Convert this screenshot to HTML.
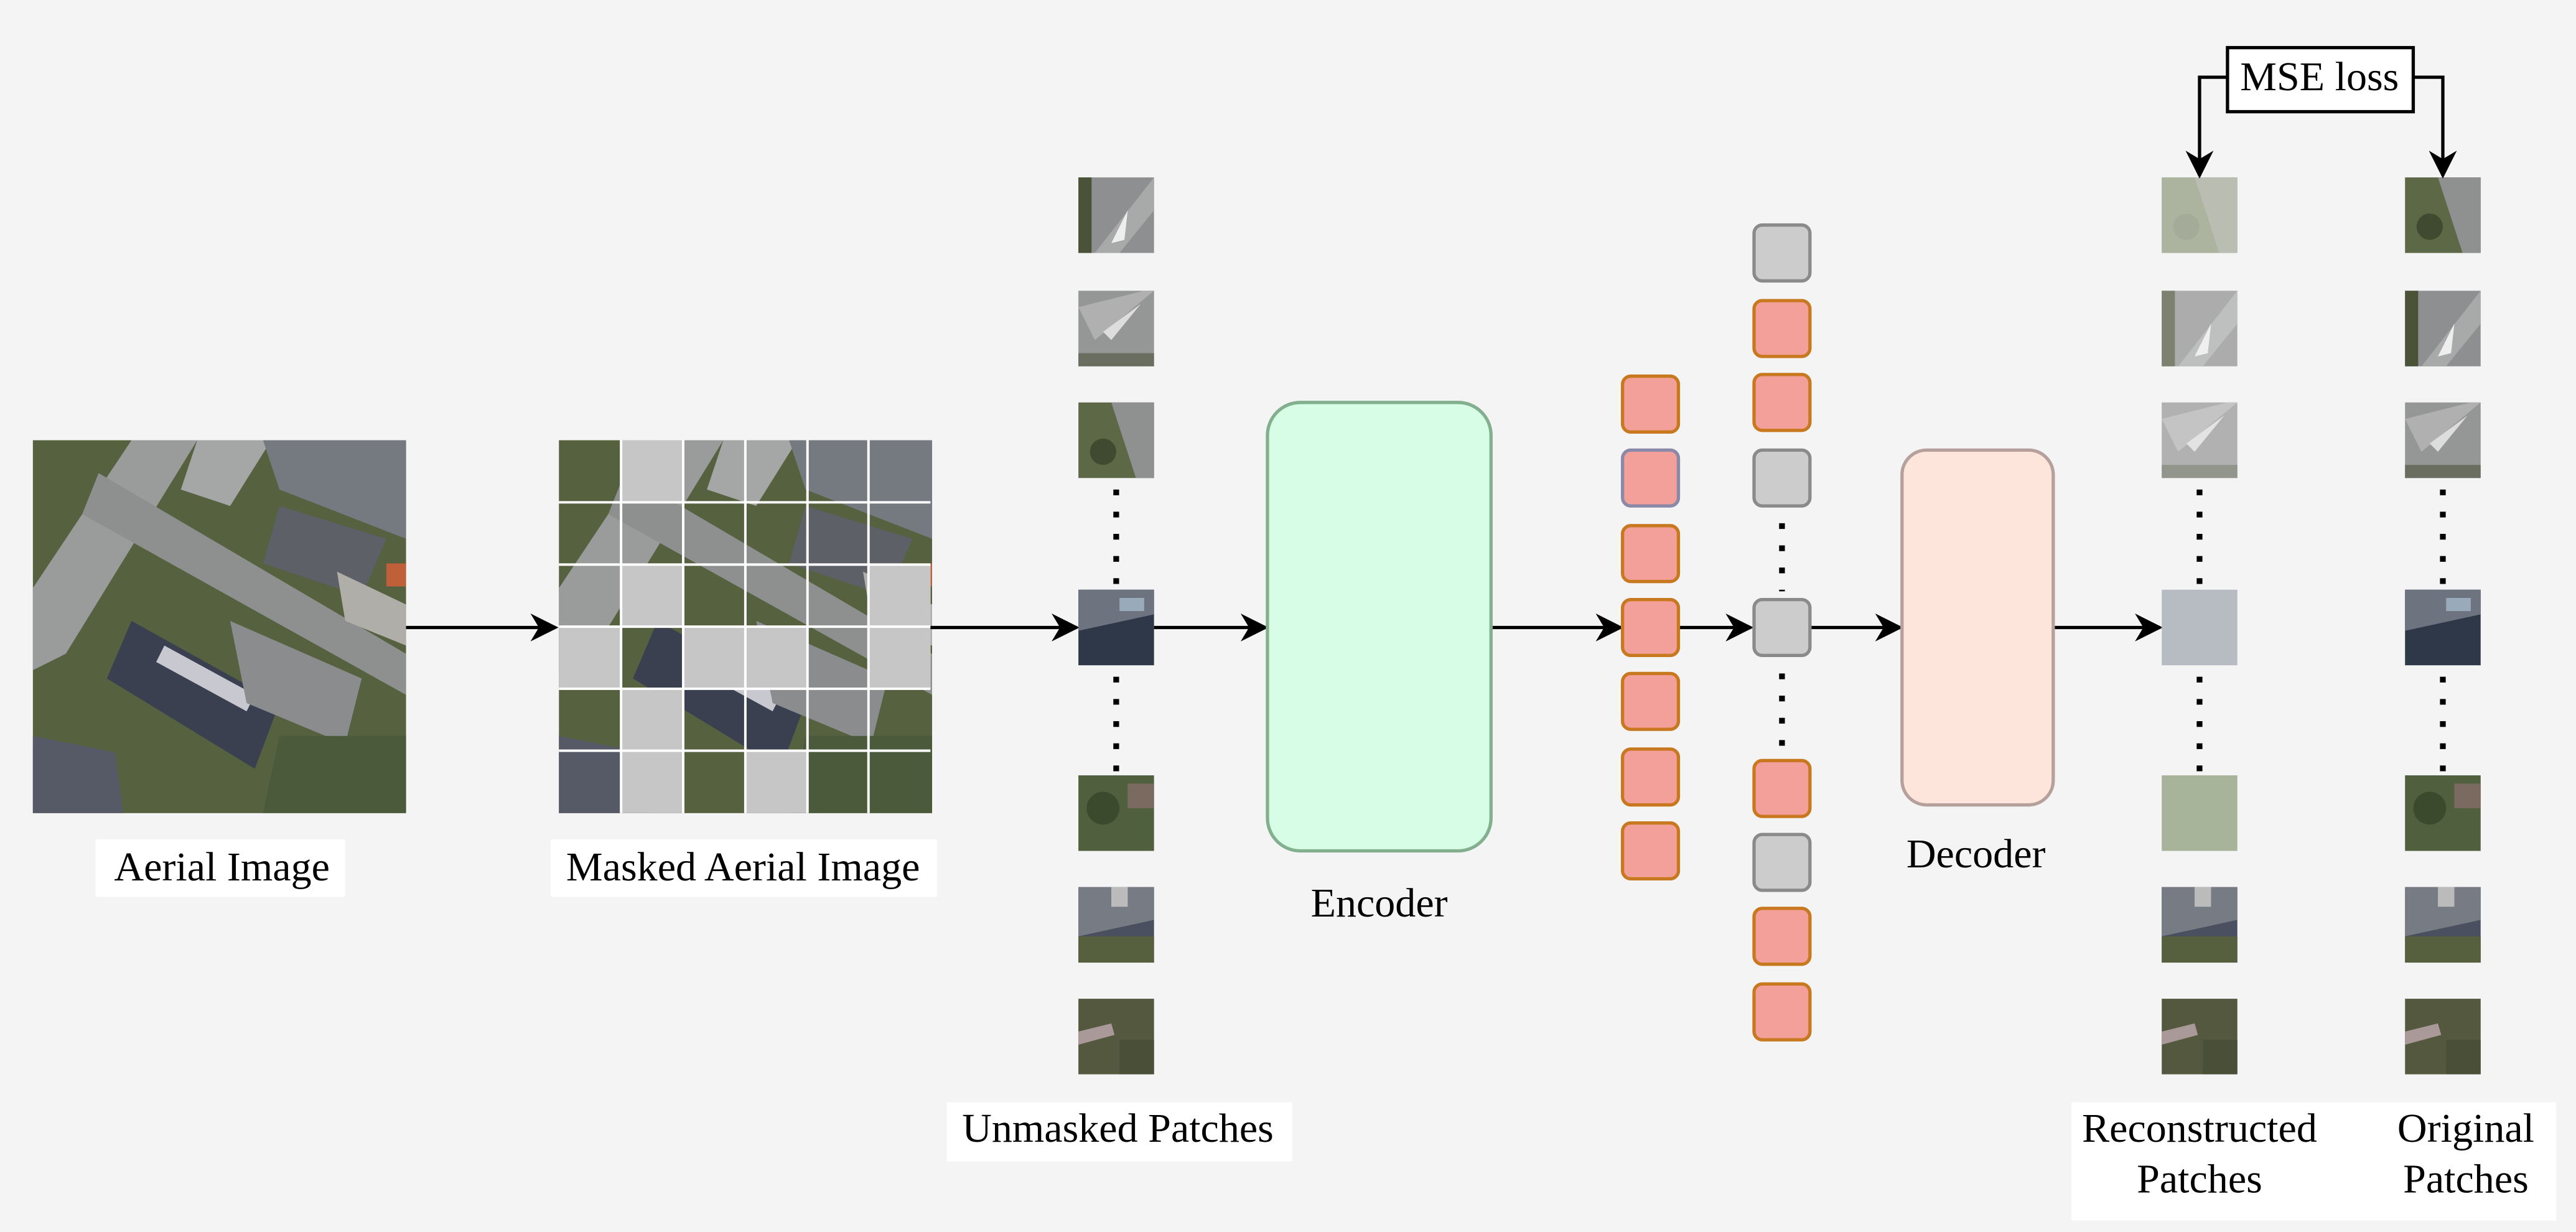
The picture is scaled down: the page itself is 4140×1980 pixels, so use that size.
<!DOCTYPE html>
<html><head><meta charset="utf-8"><style>
html,body{margin:0;padding:0;background:#f4f4f4;}
svg{display:block;}
text{font-family:"Liberation Serif",serif;font-size:25px;fill:#000;}
</style></head><body>
<svg width="4140" height="1980" viewBox="0 0 1567 750" preserveAspectRatio="none" xmlns="http://www.w3.org/2000/svg">
<defs>
<marker id="ah" viewBox="0 0 10 10" refX="9" refY="5" markerWidth="17" markerHeight="17" markerUnits="userSpaceOnUse" orient="auto"><path d="M0,0 L10,5 L0,10 L3,5 z" fill="#000"/></marker>
<g id="aer">
<rect x="0" y="0" width="227" height="227" fill="#55613f"/>
<polygon points="0,90 60,0 100,0 20,130 0,140" fill="#9a9b9b"/>
<polygon points="40,20 227,130 227,155 30,45" fill="#8e9090"/>
<polygon points="100,0 145,0 120,40 90,30" fill="#a5a6a6"/>
<polygon points="140,0 227,0 227,60 150,30" fill="#747a80"/>
<polygon points="150,40 215,60 200,95 140,75" fill="#5d6066"/>
<polygon points="60,110 150,160 135,200 45,145" fill="#3a4050"/>
<polygon points="80,125 135,155 130,165 75,135" fill="#c8c8d0"/>
<polygon points="120,110 200,145 190,185 130,160" fill="#8a8c8e"/>
<polygon points="0,180 50,190 55,227 0,227" fill="#555a66"/>
<polygon points="150,180 227,180 227,227 140,227" fill="#4b5a3a"/>
<polygon points="185,80 227,100 227,125 190,110" fill="#b0aea8"/>
<rect x="215" y="75" width="12" height="14" fill="#c0603a"/>
</g>
<g id="p1"><rect width="46" height="46" fill="#8e8f90"/><polygon points="10,46 46,0 46,20 25,46" fill="#a8a9a9"/><polygon points="20,40 30,20 28,38" fill="#eee"/><rect width="8" height="46" fill="#4a5238"/></g>
<g id="p2"><rect width="46" height="46" fill="#959696"/><polygon points="0,10 40,0 46,0 10,30" fill="#b0b0b0"/><polygon points="15,25 38,8 20,30" fill="#ddd"/><rect y="38" width="46" height="8" fill="#6a6e60"/></g>
<g id="p3"><rect width="46" height="46" fill="#5c6846"/><polygon points="20,0 46,0 46,46 35,46" fill="#8f9090"/><circle cx="15" cy="30" r="8" fill="#3f4a30"/></g>
<g id="p4"><rect width="46" height="46" fill="#2f3848"/><polygon points="0,0 46,0 46,15 0,25" fill="#6d7480"/><rect x="25" y="5" width="15" height="8" fill="#9ab"/></g>
<g id="p5"><rect width="46" height="46" fill="#50603e"/><circle cx="15" cy="20" r="10" fill="#3b4a2c"/><rect x="30" y="5" width="16" height="15" fill="#7a6a60"/></g>
<g id="p6"><rect width="46" height="46" fill="#4a5060"/><polygon points="0,0 46,0 46,20 0,30" fill="#777c84"/><rect x="20" y="0" width="10" height="12" fill="#bbb"/><rect y="30" width="46" height="16" fill="#56603e"/></g>
<g id="p7"><rect width="46" height="46" fill="#54583f"/><polygon points="0,20 20,15 22,22 0,28" fill="#a99"/><rect x="25" y="25" width="21" height="21" fill="#4a5038"/></g>
</defs>
<rect width="1567" height="750" fill="#f4f4f4"/>

<use href="#aer" x="20" y="268"/>
<rect x="58" y="511" width="152" height="35" fill="#fff"/>
<text x="135" y="536" text-anchor="middle">Aerial Image</text>

<use href="#aer" x="340" y="268"/>
<g fill="#c6c6c6">
<rect x="377.8" y="268" width="37.8" height="37.8"/>
<rect x="377.8" y="343.7" width="37.8" height="37.8"/>
<rect x="528.3" y="343.7" width="37.8" height="37.8"/>
<rect x="340" y="381.5" width="37.8" height="37.8"/>
<rect x="415.6" y="381.5" width="75.6" height="37.8"/>
<rect x="528.3" y="381.5" width="37.8" height="37.8"/>
<rect x="377.8" y="419.3" width="37.8" height="37.8"/>
<rect x="377.8" y="457" width="37.8" height="38"/>
<rect x="453.4" y="457" width="37.8" height="38"/>
</g>
<g stroke="#fff" stroke-width="1.5">
<line x1="377.8" y1="268" x2="377.8" y2="495"/><line x1="415.6" y1="268" x2="415.6" y2="495"/>
<line x1="453.4" y1="268" x2="453.4" y2="495"/><line x1="491.2" y1="268" x2="491.2" y2="495"/>
<line x1="528.3" y1="268" x2="528.3" y2="495"/>
<line x1="340" y1="305.8" x2="566" y2="305.8"/><line x1="340" y1="343.7" x2="566" y2="343.7"/>
<line x1="340" y1="381.5" x2="566" y2="381.5"/><line x1="340" y1="419.3" x2="566" y2="419.3"/>
<line x1="340" y1="457" x2="566" y2="457"/>
</g>
<rect x="335" y="511" width="235" height="35" fill="#fff"/>
<text x="452" y="536" text-anchor="middle">Masked Aerial Image</text>

<g stroke="#000" stroke-width="2" fill="none" marker-end="url(#ah)">
<line x1="247" y1="382" x2="338" y2="382"/>
<line x1="566" y1="382" x2="655" y2="382"/>
<line x1="702" y1="382" x2="770" y2="382"/>
<line x1="907" y1="382" x2="986" y2="382"/>
<line x1="1021" y1="382" x2="1065" y2="382"/>
<line x1="1101" y1="382" x2="1156" y2="382"/>
<line x1="1249" y1="382" x2="1314" y2="382"/>
</g>

<use href="#p1" x="656" y="108"/><use href="#p2" x="656" y="177"/><use href="#p3" x="656" y="245"/>
<use href="#p4" x="656" y="359"/><use href="#p5" x="656" y="472"/><use href="#p6" x="656" y="540"/><use href="#p7" x="656" y="608"/>
<g stroke="#000" stroke-width="3.5" stroke-dasharray="3.5,10">
<line x1="679" y1="298" x2="679" y2="356"/><line x1="679" y1="412" x2="679" y2="472"/>
<line x1="1338" y1="298" x2="1338" y2="356"/><line x1="1338" y1="412" x2="1338" y2="472"/>
<line x1="1486" y1="298" x2="1486" y2="356"/><line x1="1486" y1="412" x2="1486" y2="472"/>
<line x1="1084" y1="305" x2="1084" y2="360"/><line x1="1084" y1="410" x2="1084" y2="458"/>
</g>
<rect x="576" y="671" width="210" height="36" fill="#fff"/>
<text x="680" y="695" text-anchor="middle">Unmasked Patches</text>

<rect x="771" y="245" width="136" height="273" rx="20" fill="#d8fde6" stroke="#82b08f" stroke-width="2"/>
<text x="839" y="558" text-anchor="middle">Encoder</text>

<g fill="#f4a09a" stroke="#c8781e" stroke-width="2">
<rect x="987" y="229" width="34" height="34" rx="5"/>
<rect x="987" y="274" width="34" height="34" rx="5" stroke="#8a8aa8"/>
<rect x="987" y="320" width="34" height="34" rx="5"/>
<rect x="987" y="365" width="34" height="34" rx="5"/>
<rect x="987" y="410" width="34" height="34" rx="5"/>
<rect x="987" y="456" width="34" height="34" rx="5"/>
<rect x="987" y="501" width="34" height="34" rx="5"/>
</g>
<g fill="#f4a09a" stroke="#c8781e" stroke-width="2">
<rect x="1067" y="183" width="34" height="34" rx="5"/>
<rect x="1067" y="228" width="34" height="34" rx="5"/>
<rect x="1067" y="463" width="34" height="34" rx="5"/>
<rect x="1067" y="553" width="34" height="34" rx="5"/>
<rect x="1067" y="599" width="34" height="34" rx="5"/>
</g>
<g fill="#cccccc" stroke="#8a8a8a" stroke-width="2">
<rect x="1067" y="137" width="34" height="34" rx="5"/>
<rect x="1067" y="274" width="34" height="34" rx="5"/>
<rect x="1067" y="365" width="34" height="34" rx="5"/>
<rect x="1067" y="508" width="34" height="34" rx="5"/>
</g>

<rect x="1157" y="274" width="92" height="216" rx="15" fill="#fde5dc" stroke="#b5a09b" stroke-width="2"/>
<text x="1202" y="528" text-anchor="middle">Decoder</text>

<g opacity="0.55"><use href="#p3" x="1315" y="108"/></g>
<rect x="1315" y="108" width="46" height="46" fill="#b8c0a8" opacity="0.5"/>
<use href="#p1" x="1315" y="177" opacity="0.7"/><use href="#p2" x="1315" y="245" opacity="0.7"/>
<rect x="1315" y="359" width="46" height="46" fill="#b6bcc2"/>
<rect x="1315" y="472" width="46" height="46" fill="#a8b49a"/>
<use href="#p6" x="1315" y="540"/><use href="#p7" x="1315" y="608"/>
<use href="#p3" x="1463" y="108"/><use href="#p1" x="1463" y="177"/><use href="#p2" x="1463" y="245"/>
<use href="#p4" x="1463" y="359"/><use href="#p5" x="1463" y="472"/><use href="#p6" x="1463" y="540"/><use href="#p7" x="1463" y="608"/>

<rect x="1260" y="671" width="295" height="72" fill="#fff"/>
<text x="1338" y="695" text-anchor="middle">Reconstructed</text>
<text x="1338" y="726" text-anchor="middle">Patches</text>
<text x="1500" y="695" text-anchor="middle">Original</text>
<text x="1500" y="726" text-anchor="middle">Patches</text>

<rect x="1355" y="29" width="113" height="39" fill="#fff" stroke="#000" stroke-width="2"/>
<text x="1411" y="55" text-anchor="middle">MSE loss</text>
<g stroke="#000" stroke-width="2" fill="none" marker-end="url(#ah)">
<polyline points="1355,47 1338,47 1338,107"/>
<polyline points="1468,47 1486,47 1486,107"/>
</g>
</svg>
</body></html>
